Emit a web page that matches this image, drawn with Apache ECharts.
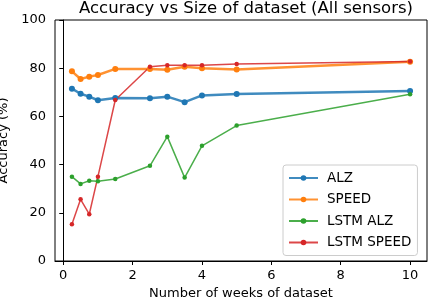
<!DOCTYPE html>
<html><head><meta charset="utf-8">
<script src="https://cdn.jsdelivr.net/npm/echarts@6/dist/echarts.min.js"></script>
<style>html,body{margin:0;padding:0;background:#fff}#c{width:428px;height:298px}</style>
</head><body><div id="c"></div>
<script>
const weeks = [0.25, 0.5, 0.75, 1, 1.5, 2.5, 3, 3.5, 4, 5, 10];
const alz = [71.5, 69.4, 68.2, 66.7, 67.6, 67.5, 68.2, 65.9, 68.7, 69.3, 70.5];
const speed = [78.7, 75.5, 76.5, 77.2, 79.7, 79.7, 79.4, 80.6, 80.0, 79.5, 82.7];
const lstmAlz = [35.0, 32.0, 33.3, 33.1, 34.0, 39.5, 51.6, 34.6, 47.8, 56.2, 69.2];
const lstmSpeed = [15.2, 25.6, 19.4, 35.0, 66.8, 80.6, 81.2, 81.2, 81.2, 81.7, 82.8];
const xTicks = [0, 2, 4, 6, 8, 10];
const yTicks = [0, 20, 40, 60, 80, 100];
const names = ['ALZ', 'SPEED', 'LSTM ALZ', 'LSTM SPEED'];
const colors = ['#1f77b4', '#ff7f0e', '#2ca02c', '#d62728'];
const values = [alz, speed, lstmAlz, lstmSpeed];
const widths = [2.5, 2.5, 1.5, 1.5];
const sizes = [6, 6, 4.5, 4.5];
const FONT = 'DejaVu Sans';
const chart = echarts.init(document.getElementById('c'), null, {renderer: 'canvas'});
chart.setOption({
  animation: false,
  textStyle: {fontFamily: FONT},
  title: {text: 'Accuracy vs Size of dataset (All sensors)', left: 241, textAlign: 'center', top: -5,
    textStyle: {fontFamily: FONT, fontSize: 16.5, fontWeight: 'normal', color: '#000'}},
  grid: {left: 55, right: 1, top: 20, bottom: 37, show: true, borderColor: '#000', borderWidth: 1,
    backgroundColor: 'transparent', outerBoundsMode: 'none', containLabel: false},
  legend: {orient: 'vertical', left: 283, top: 165, width: 137, itemGap: 7.5, itemWidth: 29, itemHeight: 7,
    padding: [6, 6, 6, 5], backgroundColor: 'rgba(255,255,255,0.8)', borderColor: '#cccccc', borderWidth: 1, borderRadius: 3,
    textStyle: {fontFamily: FONT, fontSize: 13.5, color: '#000', padding: [0, 0, 0, 4]},
    data: names},
  xAxis: {type: 'value', min: -0.2375, max: 10.4875,
    name: 'Number of weeks of dataset', nameLocation: 'middle', nameGap: 25,
    nameTextStyle: {fontFamily: FONT, fontSize: 13, color: '#000'},
    axisLine: {show: true, lineStyle: {color: '#000', width: 1}},
    axisTick: {show: true, length: 4, lineStyle: {color: '#000'}, customValues: xTicks},
    axisLabel: {fontFamily: FONT, fontSize: 13, color: '#000', margin: 8, customValues: xTicks},
    splitLine: {show: false}},
  yAxis: {type: 'value', min: 0, max: 100, interval: 20,
    name: 'Accuracy (%)', nameLocation: 'middle', nameGap: 40,
    nameTextStyle: {fontFamily: FONT, fontSize: 13, color: '#000'},
    axisLine: {show: true, lineStyle: {color: '#000', width: 1}},
    axisTick: {show: true, length: 4, lineStyle: {color: '#000'}, customValues: yTicks},
    axisLabel: {fontFamily: FONT, fontSize: 13, color: '#000', margin: 9, customValues: yTicks},
    splitLine: {show: false}},
  series: names.map((n, i) => ({
    name: n, type: 'line', data: weeks.map((w, j) => [w, values[i][j]]),
    symbol: 'circle', symbolSize: sizes[i], showSymbol: true,
    lineStyle: {color: colors[i], width: widths[i], opacity: 0.85},
    itemStyle: {color: colors[i]},
    emphasis: {disabled: true}
  }))
});
</script></body></html>
